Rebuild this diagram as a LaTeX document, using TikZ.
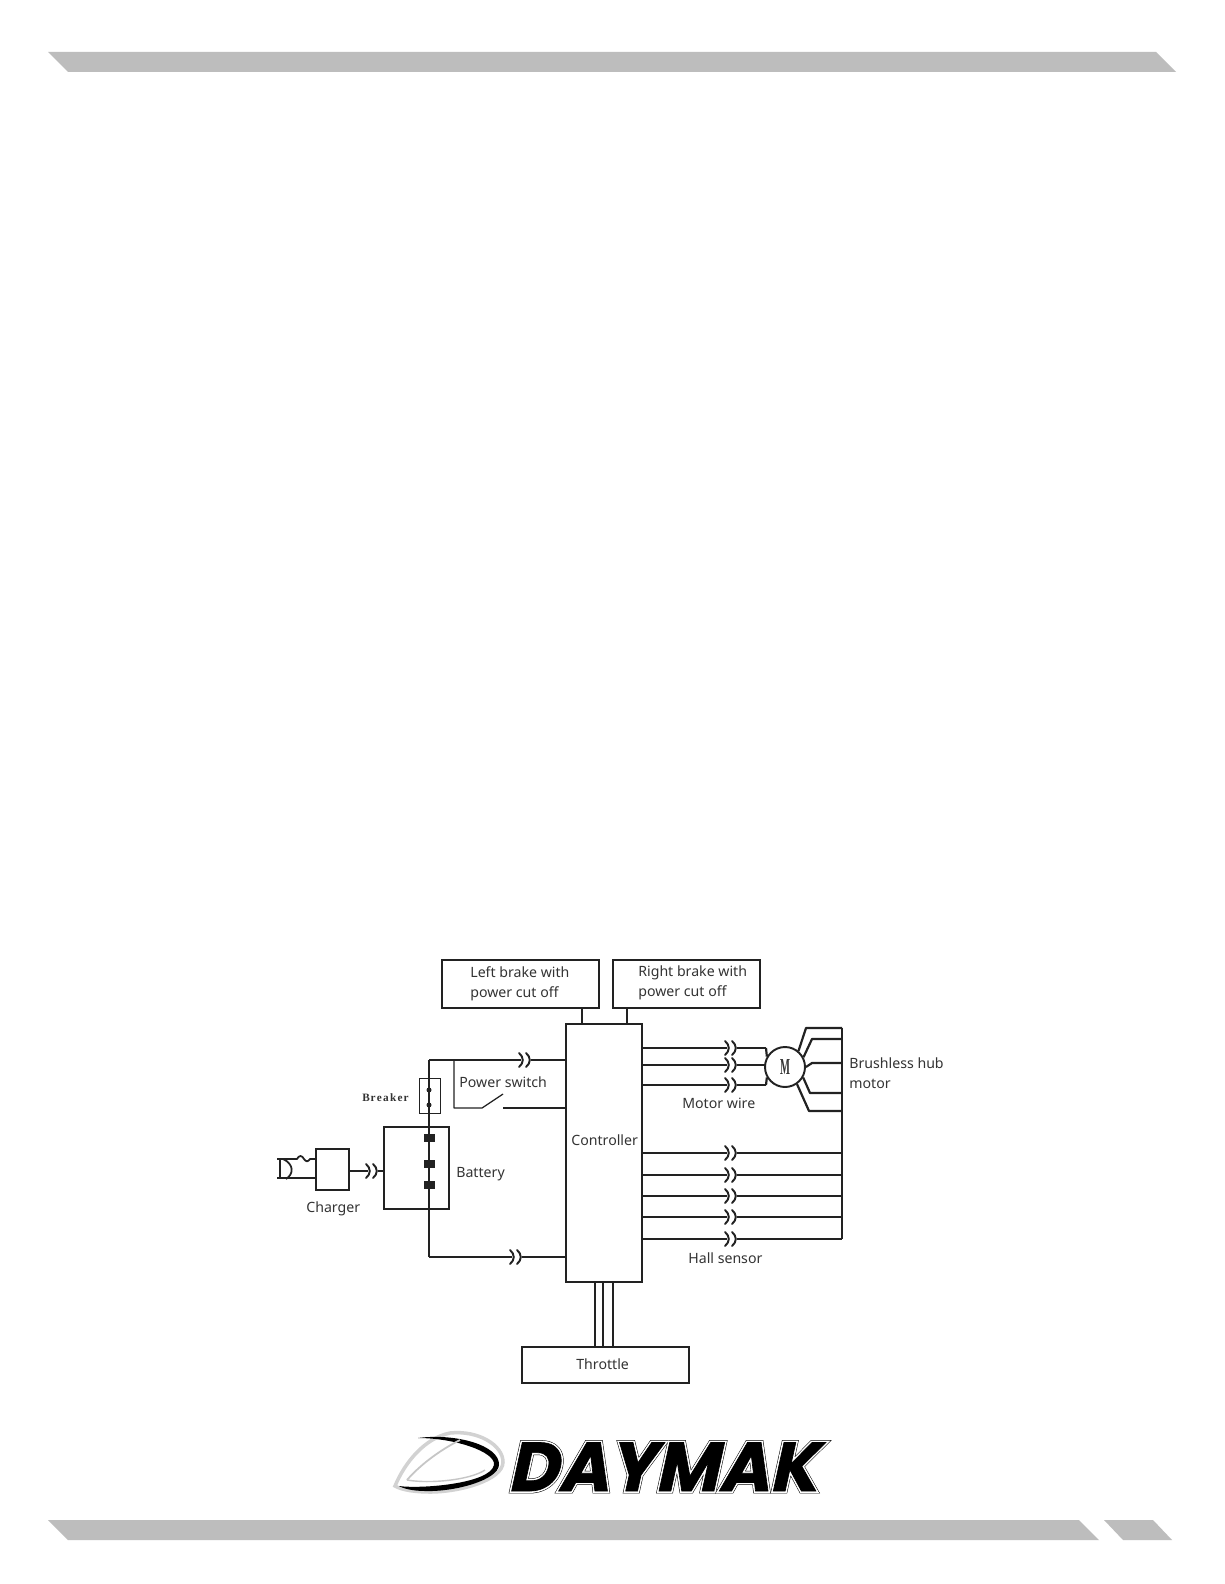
\documentclass[tikz,border=0pt]{standalone}
\usepackage{fontspec}
\setmainfont{Noto Sans}
\newfontfamily\brkfont{Liberation Serif}
\newfontfamily\mfont{Liberation Serif}
\newfontface\logoA{Poppins Bold}[FakeSlant=0.22,FakeBold=7]
\newfontface\logoB{Poppins Bold}[FakeSlant=0.22,FakeBold=5.5]
\newfontface\logoC{Poppins Bold}[FakeSlant=0.22,FakeBold=1.0]
\definecolor{barg}{HTML}{BDBDBD}
\definecolor{ink}{HTML}{222222}
\definecolor{txt}{HTML}{333333}
\def\px{0.02cm}
\tikzset{
  bar/.style={fill=barg,draw=none},
  boxn/.style={draw=ink,line width=1.2pt,inner sep=0pt,fill=white},
  thinbox/.style={draw=ink,line width=0.55pt,inner sep=0pt},
  wire/.style={draw=ink,line width=1.25pt,line join=round},
  thinwire/.style={draw=ink,line width=0.7pt,line join=round},
  lab/.style={anchor=base west,inner sep=0pt,text=txt,font=\fontsize{8.05pt}{10pt}\selectfont},
  cell/.style={fill=ink,draw=none,minimum width=11*\px,minimum height=8*\px,inner sep=0pt,rectangle},
  dotn/.style={fill=ink,draw=none,circle,minimum size=5*\px,inner sep=0pt},
  pin/.pic={
    \draw[ink,line width=1.1pt,line cap=round] (-12,-7) .. controls (-7,-3) and (-7,3) .. (-12,7);
    \draw[ink,line width=1.1pt,line cap=round] (-5,-7) .. controls (0,-3) and (0,3) .. (-5,7);
  }
}
\begin{document}
\begin{tikzpicture}[x=\px,y=-\px]
\useasboundingbox (0,0) rectangle (1224,1584);
\fill[white] (0,0) rectangle (1224,1584);
% page bars
\fill[bar] (48,52) -- (1156,52) -- (1176,72) -- (68,72) -- cycle;
\fill[bar] (48,1520) -- (1079,1520) -- (1099,1540) -- (68,1540) -- cycle;
\fill[bar] (1104,1520) -- (1153,1520) -- (1172,1540) -- (1123,1540) -- cycle;
% boxes
\node[boxn,minimum width=157*\px,minimum height=48*\px] (lb) at (520.5,984) {};
\node[boxn,minimum width=147*\px,minimum height=48*\px] (rb) at (686.5,984) {};
\node[thinbox,draw=ink,line width=0.8pt,minimum width=76*\px,minimum height=258*\px] (ctrl) at (604,1153) {};
\node[boxn,minimum width=167*\px,minimum height=36*\px] (thr) at (605.5,1365) {};
\node[boxn,minimum width=65*\px,minimum height=82*\px] (bat) at (416.5,1168) {};
\node[boxn,minimum width=33*\px,minimum height=41*\px] (chg) at (332.5,1169.5) {};
\node[thinbox,minimum width=21*\px,minimum height=35*\px] (brk) at (429.5,1095.5) {};
\node[draw=ink,line width=1.1pt,fill=white,circle,minimum size=40*\px,inner sep=0pt] (mot) at (785,1067) {\mfont\bfseries\color{txt}\fontsize{10pt}{10pt}\selectfont\scalebox{0.6}[1.3]{M}};
% labels
\node[lab] (t1) at (470,977) {Left brake with};
\node[lab] (t2) at (470,997) {power cut off};
\node[lab] (t3) at (638,976) {Right brake with};
\node[lab] (t4) at (638,996) {power cut off};
\node[lab] (t5) at (459,1087) {Power switch};
\node[lab,font=\brkfont\bfseries\fontsize{6.4pt}{8pt}\selectfont] (t6) at (362,1101) {B\hspace{0.5pt}r\hspace{0.7pt}e\hspace{0.7pt}a\hspace{0.7pt}k\hspace{0.7pt}e\hspace{0.7pt}r};
\node[lab] (t7) at (306,1212) {Charger};
\node[lab] (t8) at (456,1177) {Battery};
\node[lab] (t9) at (571,1145) {Controller};
\node[lab] (t10) at (682,1108) {Motor wire};
\node[lab] (t11) at (849,1068) {Brushless hub};
\node[lab] (t12) at (849,1088) {motor};
\node[lab] (t13) at (688,1263) {Hall sensor};
\node[lab] (t14) at (576,1369) {Throttle};
% brake stubs
\draw[thinwire,line width=0.9pt] (lb.south -| 582,0) -- (ctrl.north -| 582,0);
\draw[thinwire,line width=0.9pt] (rb.south -| 627,0) -- (ctrl.north -| 627,0);
% throttle wires
\foreach \xx in {595,603,613}{\draw[thinwire,line width=0.8pt] (ctrl.south -| \xx,0) -- (thr.north -| \xx,0);}
% battery string
\coordinate (tl) at (429,1060);
\coordinate (bl) at (429,1257);
\draw[thinwire,line width=1pt] (tl) -- (bl);
\node[dotn] (d1) at (429,1090) {};
\node[dotn] (d2) at (429,1105) {};
\node[cell] (c1) at (429.5,1138) {};
\node[cell] (c2) at (429.5,1164) {};
\node[cell] (c3) at (429.5,1185) {};
% top supply
\coordinate (p1) at (531,1060);
\coordinate (p2) at (522,1257);
\draw[wire] (tl) -- (454,1060);
\draw[thinwire] (454,1060) -- (521,1060);
\draw[wire] (p1) -- (ctrl.west |- p1);
\pic at (p1) {pin};
\draw[thinwire,line width=1pt] (bl) -- (512,1257);
\draw[thinwire,line width=1pt] (p2) -- (ctrl.west |- p2);
\pic at (p2) {pin};
% power switch
\coordinate (s0) at (454,1060);
\coordinate (s1) at (454,1108);
\coordinate (s2) at (482,1108);
\coordinate (s3) at (503,1094);
\coordinate (s4) at (503,1108);
\draw[thinwire] (s0) -- (s1) -- (s2) -- (s3);
\draw[thinwire] (s4) -- (ctrl.west |- s4);
% charger
\coordinate (p3) at (378,1171);
\draw[wire] (chg.east |- p3) -- (368,1171);
\draw[thinwire] (p3) -- (bat.west |- p3);
\pic at (p3) {pin};
\coordinate (pl1) at (277,1159);
\coordinate (pl2) at (277,1178);
\draw[thinwire,line width=1pt] (pl2) -- (chg.west |- pl2);
\draw[thinwire,line width=1pt] (pl1) -- (297,1159) .. controls (299,1155) and (302,1155) .. (304,1159) .. controls (306,1162) and (308,1162) .. (310,1159) -- (chg.west |- pl1);
\draw[thinwire,line width=1.2pt] (280,1159) -- (280,1179);
\draw[thinwire,line width=1pt] (283,1159) .. controls (294,1164) and (294,1174) .. (286,1179);
% motor wires
\foreach \yy in {1048,1065,1085}{
  \draw[wire] (ctrl.east |- 0,\yy) -- (727,\yy);
  \draw[wire] (737,\yy) -- (766,\yy);
  \pic at (737,\yy) {pin};
}
\coordinate (mt0) at (766,1048);
\coordinate (mt2) at (766,1085);
\draw[wire] (mt0) -- (mot.150);
\draw[wire] (mt2) -- (mot.210);
% motor star to bus
\coordinate (bt) at (842,1028);
\coordinate (bb) at (842,1239);
\draw[wire] (bt) -- (bb);
\draw[wire] (mot.50) -- (806,1028) -- (bt);
\draw[wire] (mot.28) -- (812,1039) -- (842,1039);
\draw[wire] (mot.0) -- (812,1063) -- (842,1063);
\draw[wire] (mot.-30) -- (810,1093) -- (842,1093);
\draw[wire] (mot.-55) -- (809,1111) -- (842,1111);
% hall wires
\foreach \yy in {1153,1175,1196,1217,1239}{
  \draw[wire] (ctrl.east |- 0,\yy) -- (727,\yy);
  \draw[wire] (737,\yy) -- (842,\yy);
  \pic at (737,\yy) {pin};
}
% logo swoosh
\draw[gray!35,line width=2pt,fill=white] (395,1486) .. controls (405,1462) and (425,1438) .. (450,1433) .. controls (478,1430) and (503,1445) .. (503,1462) .. controls (503,1480) and (460,1492) .. (430,1492) .. controls (415,1492) and (402,1490) .. (395,1486) -- cycle;
\fill[black] (418,1438) .. controls (455,1433) and (500,1445) .. (499,1465) .. controls (498,1480) and (455,1492) .. (425,1491) .. controls (412,1491) and (402,1488) .. (399,1486) .. controls (420,1489) and (490,1484) .. (494,1465) .. controls (496,1452) and (455,1438) .. (418,1438) -- cycle;
\draw[gray!45,line width=1pt] (407,1480) .. controls (420,1465) and (440,1450) .. (460,1440);
\draw[gray!45,line width=0.8pt] (407,1480) .. controls (430,1484) and (470,1480) .. (485,1470);
% logo word
\node[inner sep=0pt,anchor=base west,text=black] (lg1) at (507,1491) {\logoA\fontsize{39.3pt}{40pt}\selectfont DAYMAK};
\node[inner sep=0pt,anchor=base west,text=white] (lg2) at (507,1491) {\logoB\fontsize{39.3pt}{40pt}\selectfont DAYMAK};
\node[inner sep=0pt,anchor=base west,text=black] (lg3) at (507,1491) {\logoC\fontsize{39.3pt}{40pt}\selectfont DAYMAK};
\end{tikzpicture}
\end{document}
